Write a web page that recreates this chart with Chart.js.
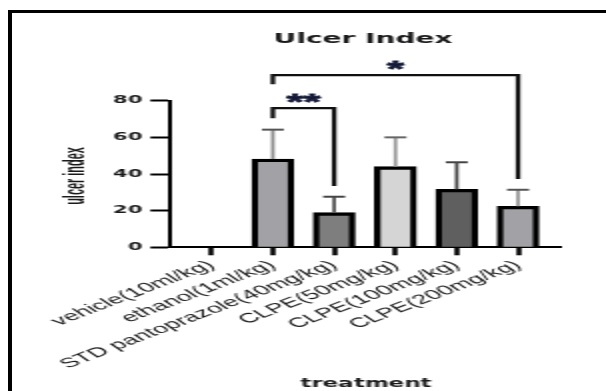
<!DOCTYPE html>
<html>
<head>
<meta charset="utf-8">
<script src="https://cdn.jsdelivr.net/npm/chart.js@4.4.1/dist/chart.umd.min.js"></script>
<style>
  html, body { margin: 0; padding: 0; background: #fff; width: 606px; height: 391px; overflow: hidden; }
  #frame { position: absolute; left: 8px; top: 9.5px; width: 800px; height: 600px;
           border-left: 4.5px solid #000; border-top: 3px solid #000; }
  /* the source picture is a 2x horizontally stretched export, so draw at half width and stretch */
  #wrap { position: absolute; left: 0; top: 0; width: 303px; height: 391px;
          transform: scaleX(2); transform-origin: 0 0; }
</style>
</head>
<body>
<div id="frame"></div>
<div id="wrap"><canvas id="chart" width="303" height="391"></canvas></div>
<script>
  // --- data --------------------------------------------------------------- //
  var categories = ["vehicle(10ml/kg)", "ethanol(1ml/kg)", "STD pantoprazole(40mg/kg)",
                    "CLPE(50mg/kg)", "CLPE(100mg/kg)", "CLPE(200mg/kg)"];
  var means = [0, 48.2, 18.9, 44.0, 31.6, 22.4];
  var sem = [0, 16.0, 8.7, 16.0, 14.8, 9.0];
  var yTicks = [0, 20, 40, 60, 80];

  // significance brackets (category index from/to, values in y units)
  var sigText = ["*", "**"];
  var sigFrom = [1, 1];
  var sigTo = [5, 2];
  var sigTop = [94.0, 75.9];
  var sigLeftEnd = [89.0, 70.4];
  var sigRightEnd = [37.3, 33.5];

  // --- styles --------------------------------------------------------------- //
  var FILL = ["#a2a2a6", "#a2a2a6", "#7e7e7e", "#d5d5d5", "#5f5f5f", "#a2a2a6"];
  var STEM = ["#888888", "#8c8c8c", "#555555", "#999999", "#444444", "#999999"];
  var CAP = ["#555555", "#555555", "#444444", "#666666", "#444444", "#555555"];
  var INK = "#1a1a1a";
  var STAR = "#141a38";

  var extras = {
    id: "extras",
    afterDatasetsDraw: function (chart) {
      var ctx = chart.ctx, xs = chart.scales.x, ys = chart.scales.y;
      ctx.save();

      // upper error bars
      means.forEach(function (m, i) {
        if (!sem[i]) return;
        var px = xs.getPixelForValue(i);
        var top = ys.getPixelForValue(m + sem[i]);
        var base = ys.getPixelForValue(m);
        ctx.strokeStyle = STEM[i];
        ctx.lineWidth = 1.8;
        ctx.beginPath(); ctx.moveTo(px, base); ctx.lineTo(px, top); ctx.stroke();
        ctx.strokeStyle = CAP[i];
        ctx.lineWidth = 2;
        ctx.beginPath(); ctx.moveTo(px - 5.5, top); ctx.lineTo(px + 5.5, top); ctx.stroke();
      });

      // significance brackets + stars
      sigText.forEach(function (t, k) {
        var x1 = xs.getPixelForValue(sigFrom[k]);
        var x2 = xs.getPixelForValue(sigTo[k]);
        var yt = ys.getPixelForValue(sigTop[k]);
        ctx.strokeStyle = "#111";
        ctx.lineWidth = 2.3;
        ctx.lineJoin = "miter";
        ctx.beginPath();
        ctx.moveTo(x1, ys.getPixelForValue(sigLeftEnd[k]));
        ctx.lineTo(x1, yt);
        ctx.lineTo(x2, yt);
        ctx.lineTo(x2, ys.getPixelForValue(sigRightEnd[k]));
        ctx.stroke();
        ctx.fillStyle = STAR;
        ctx.strokeStyle = STAR;
        ctx.lineWidth = 0.8;
        ctx.font = "bold 22px 'Liberation Sans'";
        ctx.textAlign = "center";
        ctx.textBaseline = "alphabetic";
        ctx.fillText(t, (x1 + x2) / 2, yt + 1);
        ctx.strokeText(t, (x1 + x2) / 2, yt + 1);
      });

      // chart title
      ctx.fillStyle = INK;
      ctx.font = "bold 14px 'DejaVu Sans'";
      ctx.textAlign = "center";
      ctx.textBaseline = "alphabetic";
      ctx.fillText("Ulcer Index", 181.5, 42.5);

      // y-axis title: narrow face in the source, so condense it along the text
      ctx.save();
      ctx.translate(38, (ys.top + ys.bottom) / 2 + 2);
      ctx.rotate(-Math.PI / 2);
      ctx.scale(0.78, 1);
      ctx.font = "bold 14px 'Liberation Sans'";
      ctx.textBaseline = "middle";
      ctx.fillText("ulcer index", 0, 0);
      ctx.restore();

      ctx.restore();
    }
  };

  new Chart(document.getElementById("chart").getContext("2d"), {
    type: "bar",
    data: {
      datasets: [{
        data: means.map(function (v, i) { return { x: i, y: v }; }),
        backgroundColor: FILL,
        borderColor: "#000",
        borderWidth: 3.3,
        borderSkipped: "start",
        barThickness: 20.8
      }]
    },
    options: {
      responsive: false,
      devicePixelRatio: 1,
      animation: false,
      layout: { padding: { left: 0, top: 100.7, right: 22.2, bottom: 0 } },
      plugins: { legend: { display: false }, tooltip: { enabled: false } },
      scales: {
        x: {
          type: "linear",
          offset: false,
          min: -0.672,
          max: 5.71,
          afterBuildTicks: function (s) { s.ticks = categories.map(function (_, i) { return { value: i }; }); },
          afterFit: function (s) { s.height = 143.7; },
          grid: { offset: false, drawOnChartArea: false, drawTicks: true, tickLength: 8, tickWidth: 2.5, tickColor: "#000" },
          border: { display: true, color: "#000", width: 2 },
          ticks: {
            autoSkip: false,
            minRotation: 37,
            maxRotation: 37,
            padding: 2,
            color: INK,
            font: { family: "'Liberation Sans', Arial, sans-serif", size: 13.5 },
            callback: function (v) { return categories[v]; }
          },
          title: {
            display: true,
            text: "treatment",
            color: INK,
            font: { family: "'DejaVu Sans'", size: 11.5, weight: "bold" },
            padding: { top: 0, bottom: 0 }
          }
        },
        y: {
          min: 0,
          max: 80,
          afterBuildTicks: function (s) { s.ticks = yTicks.map(function (v) { return { value: v }; }); },
          afterFit: function (s) { s.width = 85.2; },
          grid: { drawOnChartArea: false, drawTicks: true, tickLength: 10, tickWidth: 2, tickColor: "#000" },
          border: { display: true, color: "#000", width: 2 },
          ticks: {
            padding: 4,
            color: INK,
            font: { family: "'DejaVu Sans'", size: 10.5, weight: "bold" }
          },
          title: { display: false }
        }
      }
    },
    plugins: [extras]
  });
</script>
</body>
</html>
